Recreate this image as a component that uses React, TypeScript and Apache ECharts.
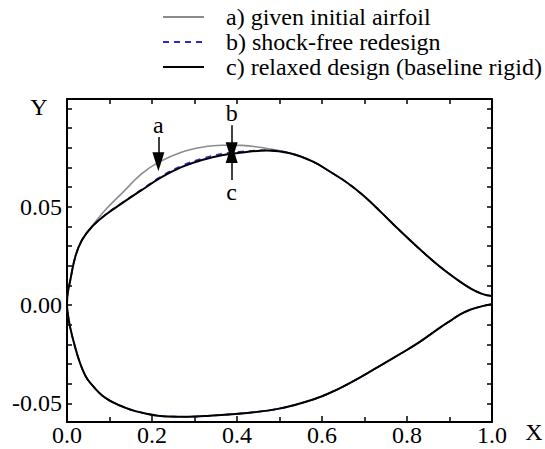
import React, { useEffect, useRef } from "react";
import * as echarts from "echarts";

// ---- data ----
const seriesNames = [
  "a) given initial airfoil",
  "b) shock-free redesign",
  "c) relaxed design (baseline rigid)",
];

// upper surface, fore part (x 0 -> 0.47), relaxed design (c)
const upperForeC: number[][] = [
  [0, 0], [0.0005, 0.0032], [0.002, 0.0065], [0.0078, 0.0127], [0.0195, 0.0246],
  [0.0353, 0.0331], [0.0588, 0.0398], [0.09, 0.0458], [0.129, 0.0517],
  [0.176, 0.0585], [0.2235, 0.0652], [0.2706, 0.0703], [0.3176, 0.0738],
  [0.3647, 0.0762], [0.4118, 0.0776], [0.4706, 0.0786],
];
// upper surface, fore part, given initial airfoil (a)
const upperForeA: number[][] = [
  [0, 0], [0.0005, 0.0032], [0.002, 0.0065], [0.0078, 0.0127], [0.0195, 0.0246],
  [0.0353, 0.0331], [0.0588, 0.0401], [0.09, 0.0483], [0.129, 0.0568],
  [0.176, 0.0668], [0.216, 0.0727], [0.2706, 0.0779], [0.3176, 0.0803],
  [0.3647, 0.0813], [0.4118, 0.0812], [0.4706, 0.0796],
];
// upper surface, fore part, shock-free redesign (b)
const upperForeB: number[][] = [
  [0, 0], [0.0005, 0.0032], [0.002, 0.0065], [0.0078, 0.0127], [0.0195, 0.0246],
  [0.0353, 0.0331], [0.0588, 0.0398], [0.09, 0.0459], [0.129, 0.0519],
  [0.176, 0.0588], [0.2235, 0.0657], [0.2706, 0.0709], [0.3176, 0.0745],
  [0.3647, 0.0769], [0.4118, 0.0781], [0.4706, 0.0788],
];
// upper surface, aft part (shared), x 0.525 -> 1
const upperAft: number[][] = [
  [0.525, 0.0772], [0.579, 0.0729], [0.619, 0.0678], [0.66, 0.0621],
  [0.7, 0.0552], [0.74, 0.047], [0.78, 0.0385], [0.831, 0.0282],
  [0.8776, 0.0195], [0.9247, 0.0119], [0.95, 0.0084], [0.975, 0.0058],
  [0.99, 0.0049], [1.0, 0.0046],
];
// lower surface (shared), x 0 -> 1
const lowerSurface: number[][] = [
  [0.0005, -0.0018], [0.002, -0.0045], [0.007, -0.011], [0.0188, -0.0212],
  [0.0306, -0.0295], [0.0424, -0.0356], [0.0518, -0.0388], [0.0887, -0.047],
  [0.1379, -0.0523], [0.187, -0.0553], [0.2365, -0.0567], [0.2856, -0.0568],
  [0.335, -0.0563], [0.417, -0.055], [0.499, -0.0527], [0.581, -0.0479],
  [0.6306, -0.0435], [0.6715, -0.039], [0.72, -0.033], [0.78, -0.0254],
  [0.831, -0.0186], [0.8776, -0.0115], [0.9, -0.0083], [0.925, -0.0048],
  [0.95, -0.0023], [0.975, -0.0007], [1.0, 0.0004],
];

// annotation arrows: label, x, y of tail, y of tip
const arrowLabels = ["a", "b", "c"];
const arrowX = [0.215, 0.3875, 0.3875];
const arrowFrom = [0.0855, 0.0915, 0.0636];
const arrowTo = [0.0729, 0.078, 0.0771];

const xLabelTicks = [0, 0.2, 0.4, 0.6, 0.8, 1.0];
const yLabelValues = [-0.05, 0, 0.05];
const yTickValues = [
  -0.05, -0.04, -0.03, -0.02, -0.01, 0, 0.01, 0.02, 0.03, 0.04, 0.05,
  0.06, 0.07, 0.08, 0.09, 0.1,
];

const FONT = "Liberation Serif";

function outline(fore: number[][]): number[][] {
  return [...upperAft.slice().reverse(), ...fore.slice().reverse(), ...lowerSurface];
}

export default function App() {
  const ref = useRef<HTMLDivElement>(null);
  useEffect(() => {
    if (!ref.current) return;
    const chart = echarts.init(ref.current, null, { renderer: "svg" });
    const axisCommon = {
      axisLine: { show: true, onZero: false, lineStyle: { color: "#000", width: 2 } },
      splitLine: { show: false },
    };
    const yMin = -0.0595;
    const yMax = 0.1048;
    chart.setOption({
      animation: false,
      backgroundColor: "#fff",
      textStyle: { fontFamily: FONT },
      legend: {
        orient: "vertical",
        left: 157,
        top: 0,
        itemWidth: 41,
        itemHeight: 14,
        itemGap: 1,
        itemStyle: { opacity: 0 },
        formatter: (name: string) => `{p| }${name}`,
        textStyle: {
          fontFamily: FONT,
          fontSize: 24,
          lineHeight: 23,
          color: "#000",
          rich: { p: { width: 17, fontFamily: FONT, fontSize: 24 } },
        },
        data: seriesNames,
      },
      grid: { left: 67, right: 53, top: 99, bottom: 27, outerBoundsMode: "none" },
      xAxis: [
        {
          type: "value",
          min: 0,
          max: 1,
          interval: 0.2,
          position: "bottom",
          ...axisCommon,
          axisTick: { show: true, inside: true, length: 6, lineStyle: { color: "#000", width: 1.5 } },
          minorTick: { show: true, splitNumber: 2, length: 5, lineStyle: { color: "#000", width: 1.5 } },
          minorSplitLine: { show: false },
          axisLabel: {
            fontFamily: FONT,
            fontSize: 24,
            color: "#000",
            margin: 1,
            customValues: xLabelTicks,
            formatter: (v: number) => v.toFixed(1),
          },
        },
        {
          type: "value",
          min: 0,
          max: 1,
          interval: 0.1,
          position: "top",
          ...axisCommon,
          axisTick: { show: true, inside: true, length: 5, lineStyle: { color: "#000", width: 1.5 } },
          axisLabel: { show: false },
        },
      ],
      yAxis: [
        {
          type: "value",
          min: yMin,
          max: yMax,
          position: "left",
          ...axisCommon,
          axisTick: {
            show: true,
            inside: true,
            length: 5,
            customValues: yTickValues,
            lineStyle: { color: "#000", width: 1.5 },
          },
          axisLabel: {
            fontFamily: FONT,
            fontSize: 24,
            color: "#000",
            margin: 5,
            customValues: yLabelValues,
            formatter: (v: number) => v.toFixed(2),
          },
        },
        {
          type: "value",
          min: yMin,
          max: yMax,
          position: "right",
          ...axisCommon,
          axisTick: {
            show: true,
            inside: true,
            length: 5,
            customValues: yTickValues,
            lineStyle: { color: "#000", width: 1.5 },
          },
          axisLabel: { show: false },
        },
      ],
      graphic: [
        {
          type: "text",
          x: 39,
          y: 107,
          style: { text: "Y", fontFamily: FONT, fontSize: 24, fill: "#000", align: "center", verticalAlign: "middle" },
        },
        {
          type: "text",
          x: 534,
          y: 432,
          style: { text: "X", fontFamily: FONT, fontSize: 24, fill: "#000", align: "center", verticalAlign: "middle" },
        },
      ],
      series: [
        {
          name: seriesNames[0],
          type: "line",
          data: outline(upperForeA),
          symbol: "none",
          showSymbol: false,
          smooth: 0.4,
          lineStyle: { color: "#8c8c8c", width: 1.6 },
          itemStyle: { color: "#8c8c8c" },
          z: 2,
        },
        {
          name: seriesNames[1],
          type: "line",
          data: outline(upperForeB),
          symbol: "none",
          showSymbol: false,
          smooth: 0.4,
          lineStyle: { color: "#2a2ad0", width: 1.6, type: [6, 5] },
          itemStyle: { color: "#2a2ad0" },
          z: 3,
        },
        {
          name: seriesNames[2],
          type: "line",
          data: outline(upperForeC),
          symbol: "none",
          showSymbol: false,
          smooth: 0.4,
          lineStyle: { color: "#000", width: 2 },
          itemStyle: { color: "#000" },
          z: 4,
          markLine: {
            silent: true,
            animation: false,
            symbol: ["none", "triangle"],
            symbolSize: [12, 19],
            lineStyle: { color: "#000", width: 1.5, type: "solid" },
            label: {
              show: true,
              position: "start",
              formatter: "{b}",
              fontFamily: FONT,
              fontSize: 24,
              color: "#000",
              distance: 0,
            },
            emphasis: { disabled: true },
            data: arrowLabels.map((name, i) => [
              { name, coord: [arrowX[i], arrowFrom[i]] },
              { coord: [arrowX[i], arrowTo[i]] },
            ]),
          },
        },
      ],
    });
    return () => chart.dispose();
  }, []);
  return (
    <div
      ref={ref}
      style={{ position: "fixed", left: 0, top: 0, width: 545, height: 449 }}
    />
  );
}
